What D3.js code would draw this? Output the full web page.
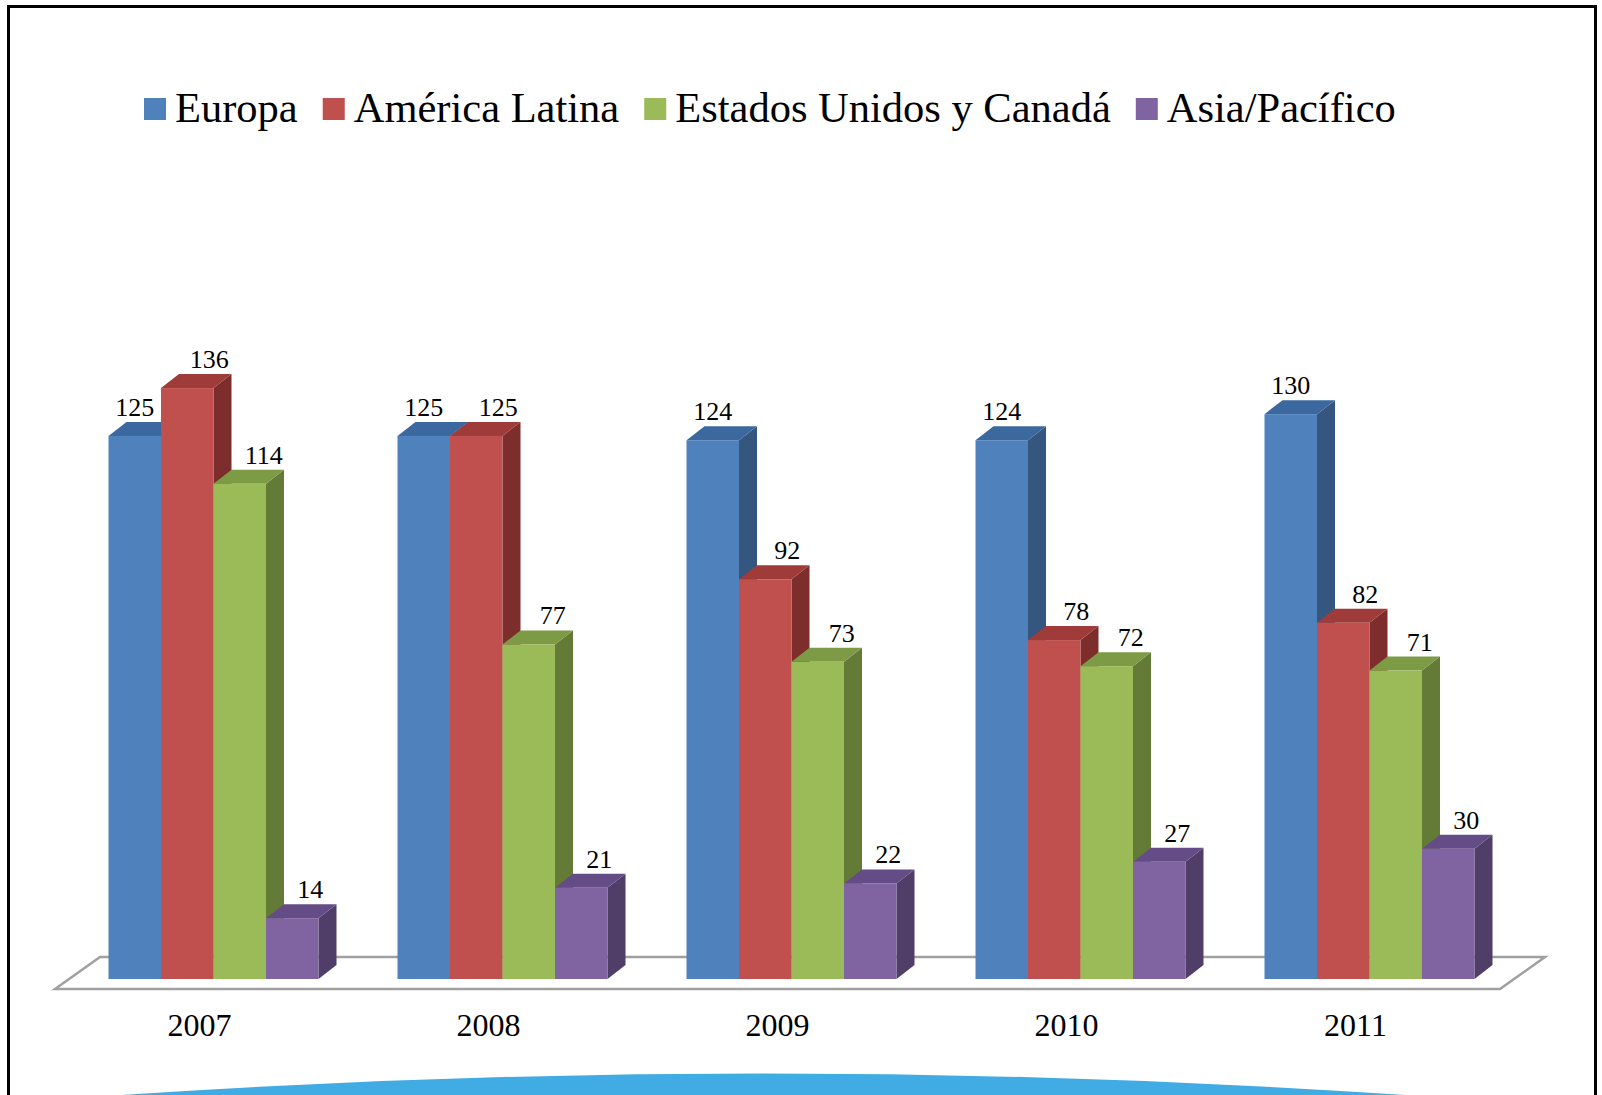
<!DOCTYPE html>
<meta charset="utf-8">
<script src="https://cdn.jsdelivr.net/npm/d3@7"></script>
<style>
body { margin: 0; background: #fff; }
text { font-family: "Liberation Serif", "Times New Roman", serif; fill: #000; }
</style>
<body>
<script>

// data
var years = ["2007", "2008", "2009", "2010", "2011"];
var series = ["Europa", "América Latina", "Estados Unidos y Canadá", "Asia/Pacífico"];
var europa = [125, 125, 124, 124, 130];
var americaLatina = [136, 125, 92, 78, 82];
var eeuuCanada = [114, 77, 73, 72, 71];
var asiaPacifico = [14, 21, 22, 27, 30];

var values = [europa, americaLatina, eeuuCanada, asiaPacifico];

var front = ["#4F81BD", "#C0504D", "#9BBB59", "#8064A2"],
    top_ = ["#3C68A0", "#9F3C3A", "#7D9A45", "#644C86"],
    side = ["#34567F", "#7D2E2C", "#647A37", "#503D68"];

var width = 1602, height = 1095;

var svg = d3.select("body").append("svg")
    .attr("width", width)
    .attr("height", height);

// frame
svg.append("rect")
    .attr("x", 8.5).attr("y", 6.5)
    .attr("width", 1587).attr("height", 1200)
    .attr("fill", "none")
    .attr("stroke", "#000")
    .attr("stroke-width", 3);

// floor
var floorL = 55, floorR = 1500, floorY = 989,
    floorDx = 45, floorDy = 32;
svg.append("path")
    .attr("d", "M" + floorL + "," + floorY +
               "L" + (floorL + floorDx) + "," + (floorY - floorDy) +
               "L" + (floorR + floorDx) + "," + (floorY - floorDy) +
               "L" + floorR + "," + floorY + "Z")
    .attr("fill", "#fff")
    .attr("stroke", "#A0A0A0")
    .attr("stroke-width", 2.5);

// bars sit a bit back on the floor
var shiftX = 14, shiftY = 10;
var base = floorY - shiftY;
var dx = 18, dy = 14;

var x0 = d3.scaleBand().domain(years).range([floorL, floorR]);
var groupW = 210;
var x1 = d3.scaleBand().domain(series).range([0, groupW]);
var y = d3.scaleLinear().domain([0, 140]).range([base, base - 140 * 4.345]);

var labelShift = [-dx, 4, 6, 0];

years.forEach(function(yr, j) {
  var g = svg.append("g");
  series.forEach(function(s, i) {
    var v = values[i][j];
    var xa = x0(yr) + (x0.bandwidth() - groupW) / 2 + shiftX + x1(s),
        xb = xa + x1.bandwidth(),
        yt = y(v), yb = y(0);
    // side
    g.append("path")
      .attr("d", "M" + xb + "," + yt + "L" + (xb + dx) + "," + (yt - dy) +
                 "L" + (xb + dx) + "," + (yb - dy) + "L" + xb + "," + yb + "Z")
      .attr("fill", side[i]);
    // top
    g.append("path")
      .attr("d", "M" + xa + "," + yt + "L" + (xa + dx) + "," + (yt - dy) +
                 "L" + (xb + dx) + "," + (yt - dy) + "L" + xb + "," + yt + "Z")
      .attr("fill", top_[i]);
    // front
    g.append("rect")
      .attr("x", xa).attr("y", yt)
      .attr("width", xb - xa).attr("height", yb - yt)
      .attr("fill", front[i]);
    g.append("text")
      .attr("x", (xa + xb) / 2 + dx + labelShift[i])
      .attr("y", yt - dy - 6)
      .attr("text-anchor", "middle")
      .style("font-size", "26px")
      .text(v);
  });
});

// category labels
svg.selectAll(".cat")
    .data(years)
    .enter().append("text")
    .attr("class", "cat")
    .attr("x", function(d) { return x0(d) + x0.bandwidth() / 2; })
    .attr("y", 1036)
    .attr("text-anchor", "middle")
    .style("font-size", "32px")
    .text(function(d) { return d; });

// legend
var lx = 144;
series.forEach(function(s, i) {
  svg.append("rect")
    .attr("x", lx).attr("y", 98)
    .attr("width", 22).attr("height", 22)
    .attr("fill", front[i]);
  var t = svg.append("text")
    .attr("x", lx + 31).attr("y", 122)
    .style("font-size", "42.5px")
    .text(s);
  lx += 31 + t.node().getComputedTextLength() + 25;
});

// blue swoosh at the bottom
svg.append("path")
    .attr("d", "M107,1096Q763,1051 1420,1096Z")
    .attr("fill", "#41ABE3");

</script>
</body>
